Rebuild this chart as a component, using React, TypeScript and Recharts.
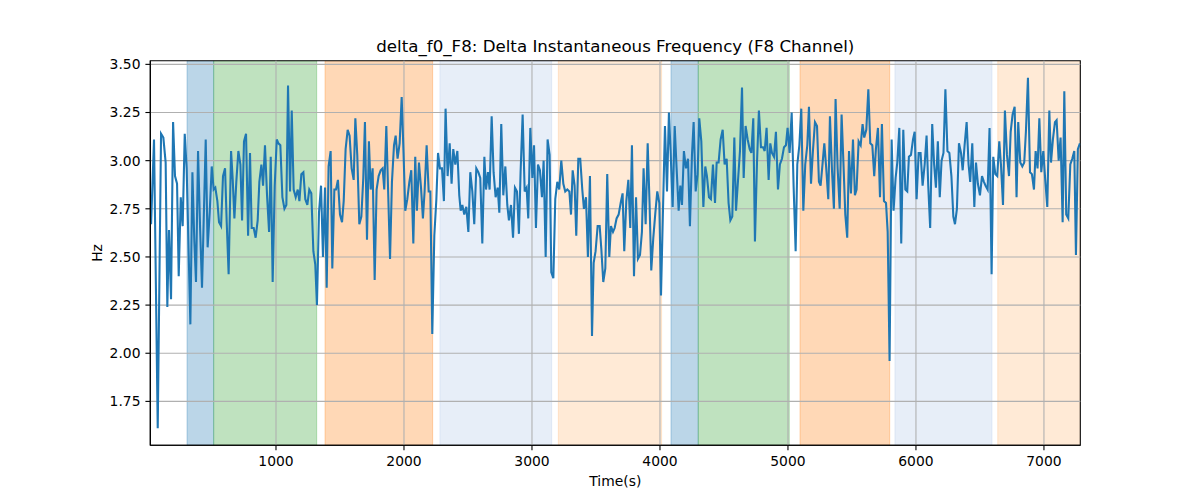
import React from "react";
import { LineChart, Line, XAxis, YAxis, ReferenceArea, ReferenceLine } from "recharts";

const times: number[] = [
  24, 47, 76, 102, 120, 138, 151, 164, 180, 196, 211, 227, 240, 256, 271, 287, 302, 331, 347, 362, 375, 391, 407, 422, 451, 466, 482, 498, 513, 526, 542, 555, 571, 586, 602, 615, 630, 649, 662, 675, 690, 706, 722, 735, 750, 766, 782, 797, 810, 826, 841, 857, 870, 886, 899, 914, 930, 946, 959, 974, 990, 1006, 1019, 1034, 1050, 1066, 1081, 1094, 1110, 1123, 1138, 1154, 1170, 1183, 1198, 1214,
  1229, 1245, 1260, 1276, 1292, 1307, 1320, 1336, 1352, 1367, 1383, 1396, 1411, 1427, 1440, 1456, 1469, 1484, 1500, 1516, 1529, 1544, 1560, 1575, 1591, 1607, 1620, 1635, 1651, 1667, 1682, 1695, 1711, 1726, 1740, 1755, 1771, 1786, 1802, 1818, 1833, 1846, 1862, 1877, 1891, 1906, 1922, 1935, 1950, 1966, 1982, 1997, 2010, 2026, 2042, 2057, 2073, 2088, 2101, 2117, 2133, 2148, 2161, 2177, 2193, 2206, 2221, 2237, 2253, 2266, 2281, 2297, 2312, 2325, 2341, 2357, 2372, 2385, 2401, 2417, 2432,
  2443, 2456, 2471, 2487, 2503, 2518, 2534, 2549, 2565, 2581, 2596, 2612, 2628, 2641, 2656, 2669, 2685, 2700, 2716, 2732, 2745, 2760, 2776, 2792, 2807, 2820, 2836, 2852, 2867, 2883, 2898, 2911, 2927, 2943, 2958, 2971, 2987, 3003, 3016, 3031, 3047, 3062, 3078, 3091, 3107, 3122, 3138, 3151, 3167, 3182, 3198, 3213, 3229, 3245, 3260, 3276, 3292, 3305, 3318, 3333, 3346, 3362, 3377, 3393, 3406, 3422, 3437, 3453, 3469, 3482, 3497, 3513, 3529, 3542, 3557, 3573, 3588, 3604, 3617, 3633, 3646,
  3661, 3677, 3693, 3708, 3721, 3737, 3753, 3768, 3781, 3797, 3813, 3828, 3844, 3859, 3872, 3888, 3904, 3919, 3932, 3948, 3964, 3979, 3995, 4008, 4023, 4039, 4055, 4070, 4083, 4099, 4115, 4130, 4146, 4159, 4172, 4187, 4203, 4219, 4234, 4250, 4263, 4279, 4294, 4307, 4323, 4339, 4354, 4367, 4383, 4398, 4414, 4430, 4443, 4458, 4474, 4490, 4505, 4521, 4536, 4550, 4565, 4581, 4594, 4609, 4625, 4641, 4654, 4669, 4685, 4701, 4714, 4729, 4742, 4758, 4773, 4789, 4805, 4818, 4833, 4849,
  4862, 4875, 4891, 4906, 4922, 4937, 4953, 4969, 4984, 4997, 5013, 5029, 5044, 5060, 5073, 5089, 5104, 5120, 5135, 5151, 5164, 5180, 5195, 5211, 5227, 5242, 5255, 5271, 5284, 5299, 5315, 5328, 5344, 5359, 5372, 5388, 5404, 5419, 5435, 5448, 5463, 5477, 5492, 5508, 5523, 5536, 5552, 5568, 5583, 5596, 5612, 5628, 5643, 5659, 5674, 5687, 5703, 5719, 5734, 5750, 5766, 5779, 5794, 5810, 5825, 5841, 5854, 5870, 5885, 5901, 5917, 5932, 5945, 5961, 5977, 5990, 6005, 6021, 6036, 6052, 6068,
  6083, 6096, 6111, 6127, 6142, 6156, 6171, 6186, 6200, 6215, 6230, 6246, 6261, 6277, 6292, 6305, 6320, 6336, 6352, 6365, 6380, 6396, 6411, 6424, 6440, 6456, 6469, 6484, 6500, 6516, 6531, 6544, 6560, 6575, 6591, 6604, 6620, 6635, 6651, 6664, 6680, 6695, 6711, 6727, 6740, 6755, 6771, 6786, 6799, 6815, 6831, 6846, 6859, 6875, 6891, 6906, 6922, 6935, 6950, 6964, 6979, 6995, 7010, 7026, 7042, 7055, 7070, 7086, 7099, 7115, 7130, 7146, 7159, 7174, 7190, 7206, 7221, 7237, 7250, 7265, 7281,
];

const hz: number[] = [
  2.67, 3.11, 1.61, 3.14, 3.12, 2.99, 2.24, 2.64, 2.28, 3.20, 2.92, 2.88, 2.40, 2.81, 2.66, 3.14, 2.96, 2.15, 2.94, 2.58, 2.37, 3.05, 2.65, 2.34, 3.11, 2.55, 2.73, 2.97, 2.85, 2.86, 2.79, 2.68, 2.66, 2.92, 2.96, 2.68, 2.41, 3.05, 2.90, 2.70, 2.89, 3.05, 2.98, 2.69, 3.10, 3.14, 2.61, 3.04, 2.65, 2.65, 2.60, 2.69, 2.89, 2.98, 2.87, 3.08, 2.82, 2.63, 3.02, 2.37, 2.87, 3.11, 3.09, 3.08, 2.81, 2.75, 2.77, 3.39, 2.84, 3.26, 2.85, 2.81, 2.85, 2.79, 2.93, 2.94,
  2.80, 2.77, 2.85, 2.83, 2.53, 2.46, 2.25, 2.73, 2.87, 2.50, 2.86, 2.34, 2.97, 3.05, 2.44, 2.85, 2.85, 2.90, 2.72, 2.68, 2.79, 3.06, 3.16, 3.13, 2.96, 2.90, 3.22, 3.03, 2.67, 2.71, 2.91, 3.20, 2.59, 3.10, 2.85, 2.96, 2.38, 2.85, 2.92, 2.95, 2.96, 2.85, 3.18, 2.82, 2.49, 2.89, 3.08, 3.13, 3.01, 3.09, 3.33, 3.03, 2.74, 2.80, 2.89, 2.95, 2.57, 3.02, 2.74, 2.99, 2.86, 2.70, 2.84, 3.08, 2.84, 2.84, 2.10, 2.61, 2.80, 3.04, 2.96, 2.96, 2.79, 3.27, 2.92, 3.09, 2.88, 3.06, 2.98, 3.05, 2.82,
  2.74, 2.77, 2.72, 2.76, 2.63, 2.94, 2.84, 2.67, 2.96, 2.94, 2.91, 2.57, 3.02, 2.85, 2.94, 2.85, 3.23, 2.94, 2.81, 2.86, 2.73, 3.19, 2.82, 2.97, 2.77, 2.69, 2.77, 2.60, 2.86, 2.84, 2.62, 2.94, 3.24, 2.84, 2.86, 2.70, 3.17, 2.91, 3.08, 2.65, 2.98, 2.95, 2.81, 3.00, 2.50, 3.11, 3.03, 2.42, 2.39, 2.80, 2.89, 2.85, 3.00, 2.88, 2.84, 2.85, 2.84, 2.72, 2.95, 2.87, 2.61, 3.01, 3.01, 2.85, 2.75, 2.81, 2.50, 2.92, 2.09, 2.47, 2.53, 2.66, 2.66, 2.54, 2.37, 2.44, 2.93, 2.50, 2.66, 2.63, 2.65,
  2.70, 2.72, 2.78, 2.83, 2.53, 2.79, 2.90, 2.65, 3.08, 2.40, 2.81, 2.49, 2.51, 2.63, 2.96, 2.67, 3.09, 2.77, 2.43, 2.60, 2.73, 2.84, 2.78, 2.30, 2.73, 3.18, 2.84, 3.25, 3.05, 2.76, 3.18, 2.96, 2.74, 2.87, 2.77, 3.05, 2.96, 3.01, 2.66, 3.03, 3.20, 2.84, 2.93, 3.22, 3.10, 2.76, 2.97, 2.92, 2.81, 2.80, 2.98, 2.78, 2.99, 2.99, 3.11, 3.16, 2.98, 3.01, 2.78, 2.69, 2.71, 3.12, 2.74, 2.89, 3.05, 3.38, 2.91, 3.18, 3.11, 3.06, 3.04, 3.22, 2.58, 2.99, 3.26, 3.07, 3.07, 3.05, 3.17, 2.90,
  3.09, 3.04, 3.02, 3.15, 2.85, 2.98, 3.01, 3.07, 3.08, 3.17, 3.04, 3.25, 2.87, 2.53, 2.98, 3.08, 3.27, 2.74, 2.98, 3.08, 3.28, 2.88, 3.05, 3.20, 3.18, 2.89, 2.87, 2.99, 3.09, 2.96, 2.80, 3.23, 2.95, 2.75, 3.32, 2.96, 2.75, 3.24, 2.96, 2.72, 2.60, 3.05, 2.83, 3.11, 2.82, 2.85, 3.10, 3.08, 3.19, 3.12, 3.16, 3.37, 3.09, 3.08, 2.92, 3.06, 3.17, 2.81, 3.19, 2.79, 2.78, 2.63, 1.96, 3.11, 2.74, 2.91, 2.99, 3.17, 2.57, 3.16, 2.85, 2.84, 3.02, 3.03, 3.11, 3.15, 2.80, 3.04, 3.04, 2.87, 2.98,
  3.13, 2.87, 2.65, 3.19, 2.98, 2.86, 3.10, 2.81, 3.00, 3.04, 3.37, 3.05, 3.04, 2.92, 2.71, 2.67, 2.75, 3.09, 3.04, 2.95, 3.08, 3.20, 2.98, 2.89, 3.09, 2.76, 2.99, 2.88, 2.82, 2.92, 2.89, 2.87, 2.85, 3.17, 2.41, 3.02, 2.93, 2.92, 3.10, 2.98, 2.77, 3.26, 3.03, 2.92, 3.15, 3.24, 3.28, 2.81, 3.20, 2.99, 2.97, 2.99, 3.15, 3.43, 2.94, 2.93, 2.85, 3.05, 2.96, 3.22, 2.94, 3.05, 2.90, 2.76, 3.26, 2.99, 3.11, 3.20, 3.21, 3.00, 3.12, 2.68, 3.36, 2.72, 2.70, 2.98, 3.01, 3.05, 2.51, 3.06, 3.09,
];

const spanStarts: number[] = [305, 513, 1383, 2281, 3206, 4086, 4299, 5094, 5836, 6639];
const spanEnds: number[] = [513, 1318, 2224, 3154, 4013, 4299, 5010, 5795, 6594, 7284];
const spanColors: string[] = ["#1f77b4", "#2ca02c", "#ff7f0e", "#aec7e8", "#ffbb78", "#1f77b4", "#2ca02c", "#ff7f0e", "#aec7e8", "#ffbb78"];

const xTicks: number[] = [1000, 2000, 3000, 4000, 5000, 6000, 7000];
const yTicks: number[] = [1.75, 2.0, 2.25, 2.5, 2.75, 3.0, 3.25, 3.5];

const X_DOMAIN: [number, number] = [18, 7284];
const Y_DOMAIN: [number, number] = [1.522, 3.519];

const rows = times.map((t, i) => ({ t, v: hz[i] }));

const FONT = "'DejaVu Sans', sans-serif";
const TICK_FS = 13.89;
const GRID = "#b0b0b0";

export default function App() {
  return (
    <div style={{ position: "absolute", left: 0, top: 0, width: 1200, height: 500, background: "#fff" }}>
      <LineChart
        width={1200}
        height={500}
        data={rows}
        margin={{ top: 60.7, right: 119.7, bottom: 24.7, left: 90.3 }}
      >
        {spanStarts.map((s, i) => (
          <ReferenceArea
            key={"span" + i}
            x1={s}
            x2={spanEnds[i]}
            y1={Y_DOMAIN[0]}
            y2={Y_DOMAIN[1]}
            fill={spanColors[i]}
            fillOpacity={0.3}
            stroke={spanColors[i]}
            strokeOpacity={0.3}
            strokeWidth={1}
            ifOverflow="hidden"
          />
        ))}
        {xTicks.map((t) => (
          <ReferenceLine key={"gx" + t} x={t} stroke={GRID} strokeWidth={1.1} />
        ))}
        {yTicks.map((t) => (
          <ReferenceLine key={"gy" + t} y={t} stroke={GRID} strokeWidth={1.1} />
        ))}
        <XAxis
          type="number"
          dataKey="t"
          domain={X_DOMAIN}
          ticks={xTicks}
          allowDataOverflow
          height={30}
          tickSize={4.9}
          tickMargin={5.5}
          stroke="#000"
          tickLine={{ stroke: "#000", strokeWidth: 1.1 }}
          axisLine={{ stroke: "#000", strokeWidth: 1.1 }}
          tick={{ fill: "#000", fontSize: TICK_FS, fontFamily: FONT }}
          interval={0}
        />
        <YAxis
          type="number"
          domain={Y_DOMAIN}
          ticks={yTicks}
          allowDataOverflow
          width={60}
          tickSize={4.9}
          tickMargin={4.9}
          stroke="#000"
          tickLine={{ stroke: "#000", strokeWidth: 1.1 }}
          axisLine={{ stroke: "#000", strokeWidth: 1.1 }}
          tick={{ fill: "#000", fontSize: TICK_FS, fontFamily: FONT }}
          tickFormatter={(v: number) => v.toFixed(2)}
          interval={0}
        />
        <Line
          type="linear"
          dataKey="v"
          stroke="#1f77b4"
          strokeWidth={2.08}
          dot={false}
          activeDot={false}
          isAnimationActive={false}
        />
        <ReferenceArea
          x1={X_DOMAIN[0]}
          x2={X_DOMAIN[1]}
          y1={Y_DOMAIN[0]}
          y2={Y_DOMAIN[1]}
          fill="none"
          stroke="#000"
          strokeWidth={1.1}
        />
      </LineChart>
      <svg
        width={1200}
        height={500}
        style={{ position: "absolute", left: 0, top: 0, pointerEvents: "none" }}
      >
        <text x={615.3} y={52.4} textAnchor="middle" fontFamily={FONT} fontSize={16.67} fill="#000">
          delta_f0_F8: Delta Instantaneous Frequency (F8 Channel)
        </text>
        <text x={615.3} y={486} textAnchor="middle" fontFamily={FONT} fontSize={TICK_FS} fill="#000">
          Time(s)
        </text>
        <text
          x={102}
          y={253}
          textAnchor="middle"
          fontFamily={FONT}
          fontSize={TICK_FS}
          fill="#000"
          transform="rotate(-90 102 253)"
        >
          Hz
        </text>
      </svg>
    </div>
  );
}
